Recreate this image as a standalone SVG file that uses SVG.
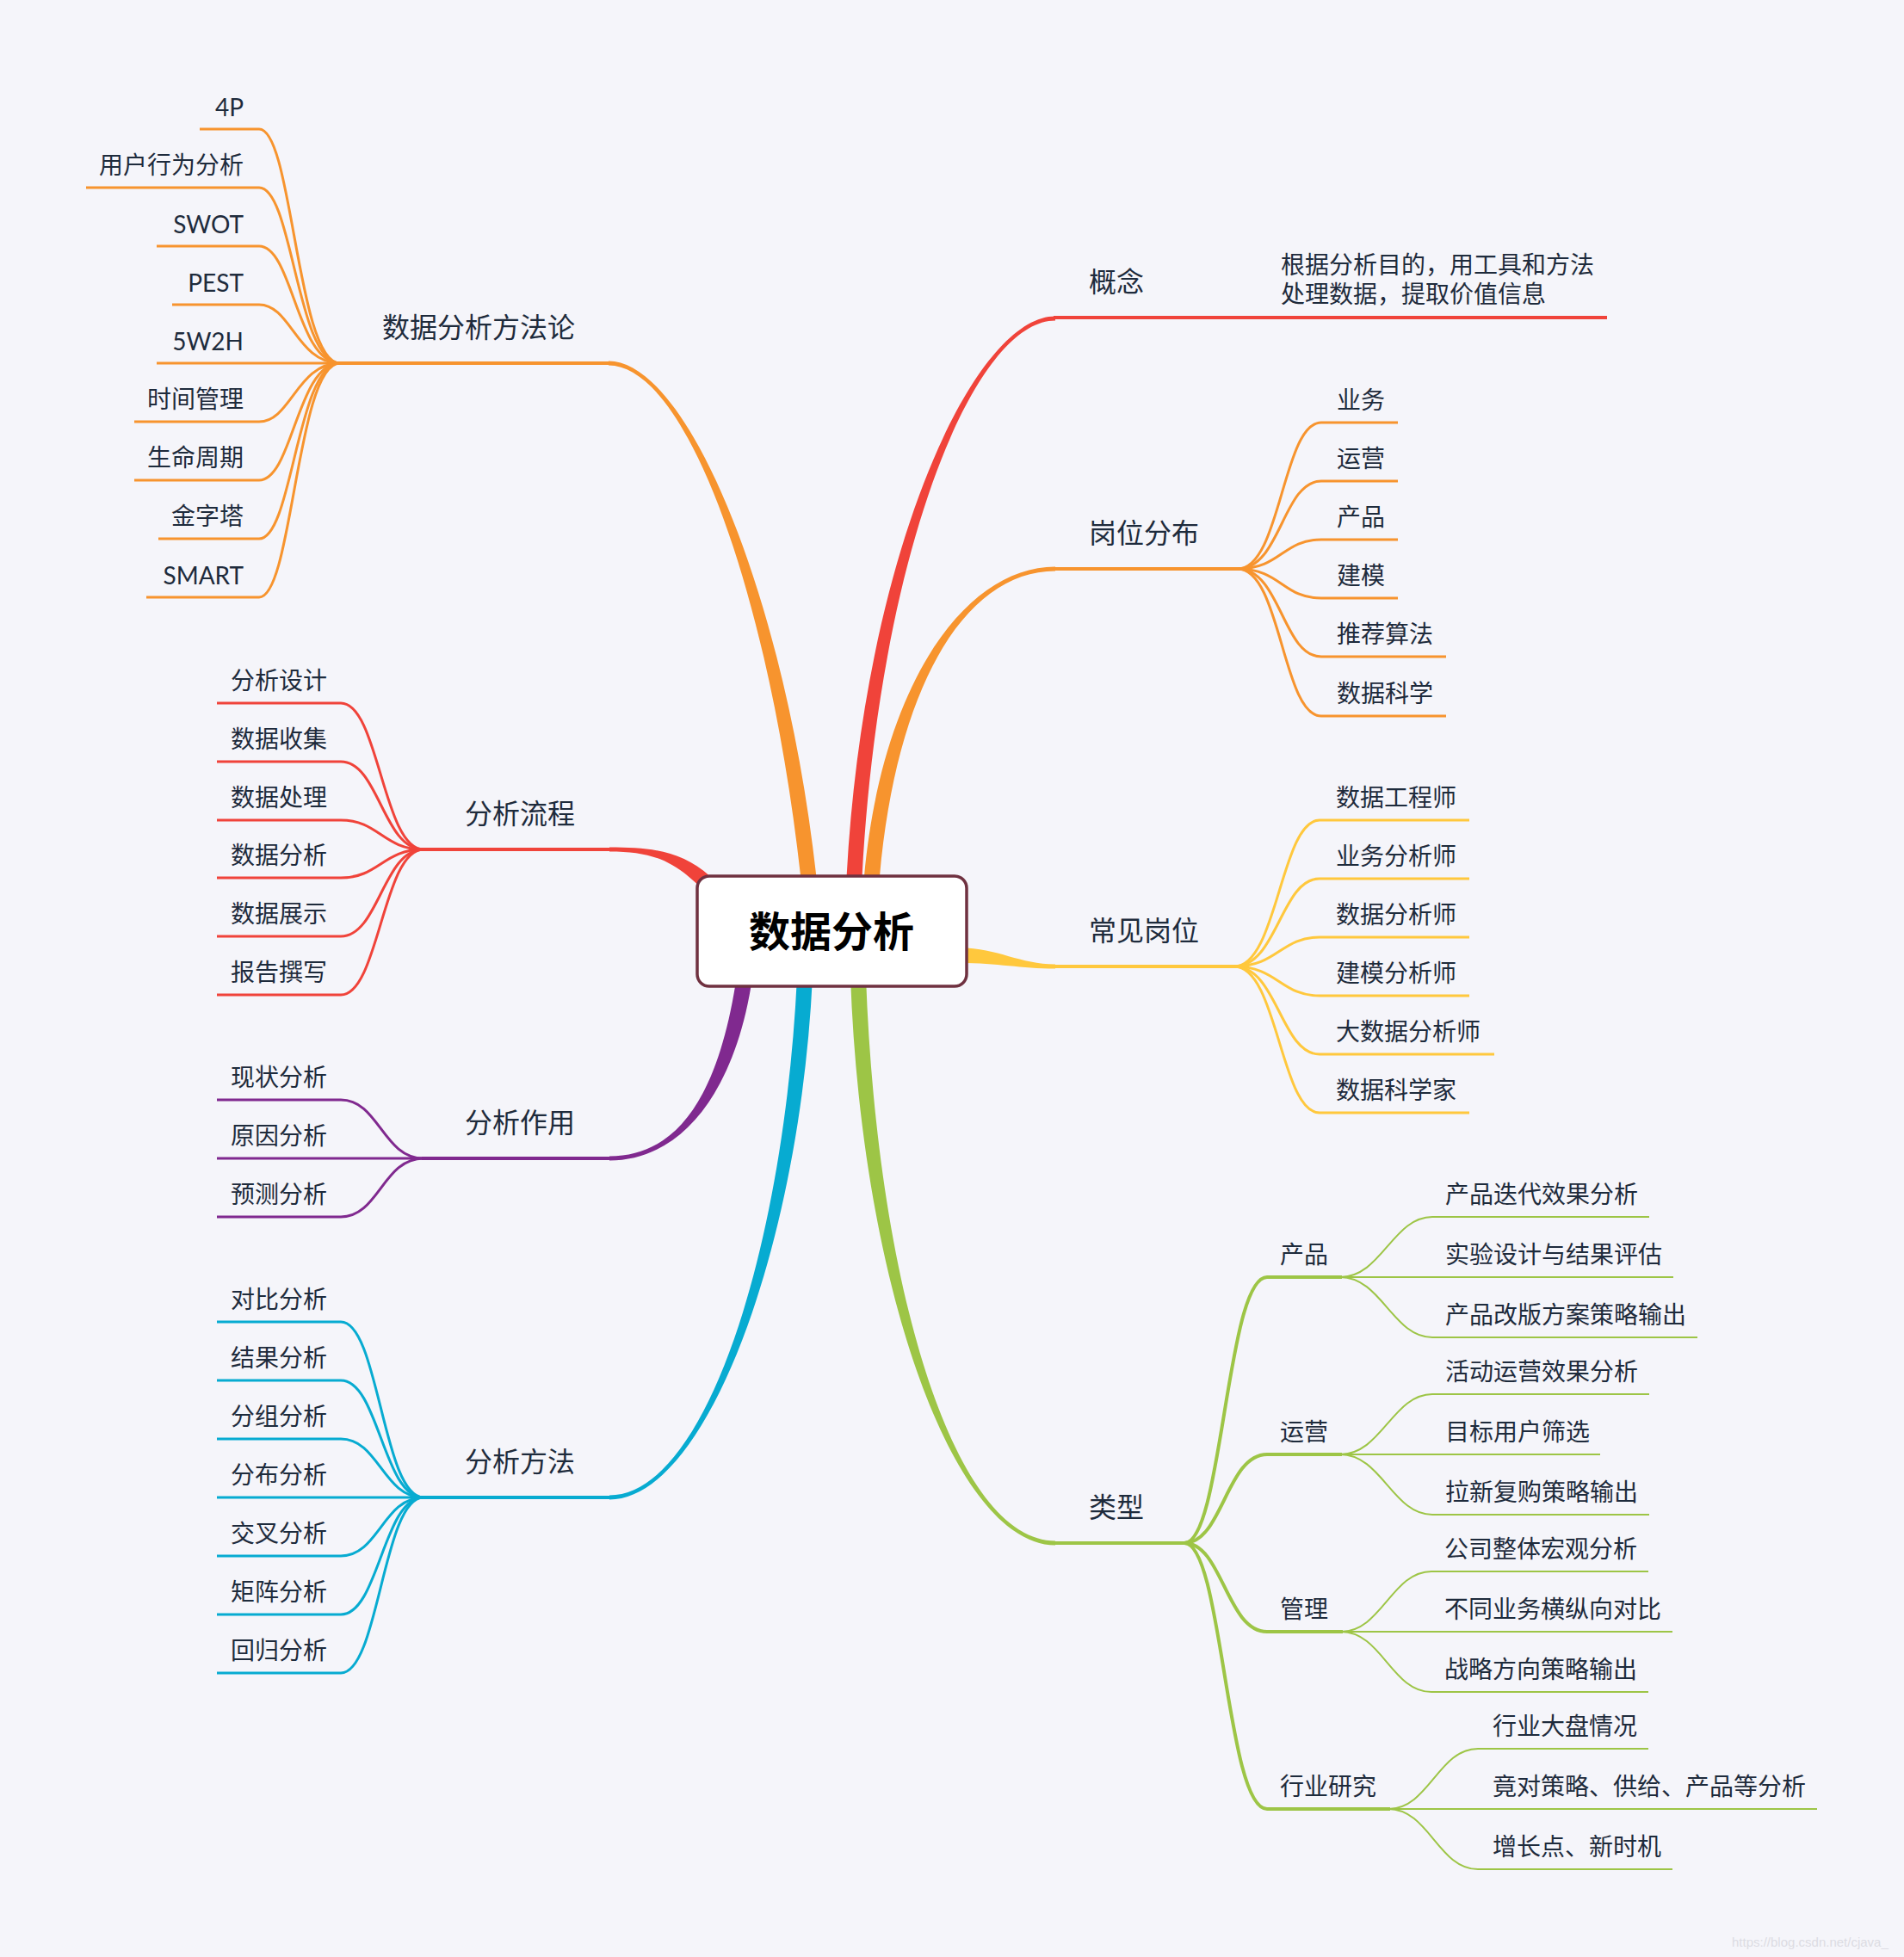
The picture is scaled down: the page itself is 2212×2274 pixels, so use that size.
<svg xmlns="http://www.w3.org/2000/svg" width="2212" height="2274" viewBox="0 0 2212 2274">
<style>
.t{font-family:Lato,"Noto Sans CJK SC",sans-serif;fill:#1E2B3C}
.l2{font-size:32px}
.l3{font-size:28px}
.e{text-anchor:end}
.c{fill:none;stroke-linecap:butt}
.w4{stroke-width:4}
.w3{stroke-width:3}
.w2{stroke-width:2}
.or{stroke:#F7942E}
.rd{stroke:#F0433A}
.ye{stroke:#FFC83D}
.gr{stroke:#9DC546}
.cy{stroke:#07ABD1}
.pu{stroke:#80298F}
</style>
<rect width="2212" height="2274" fill="#F5F5FA"/>
<g id="connectors">
  <path d="M707,419.5 C800,419.5 914,699 949,1024 L931,1026 C896,701 800,424.5 707,424.5 Z" fill="#F7942E"/>
  <path d="M1226,367.5 C1130,367.5 1001,650 983,1030 L1001,1030 C1019,650 1130,372.5 1226,372.5 Z" fill="#F0433A"/>
  <path d="M1226,658.5 C1120,658.5 1021,799 1003,1030 L1021,1030 C1039,801 1120,663.5 1226,663.5 Z" fill="#F7942E"/>
  <path d="M1226,1120.5 C1185,1120.5 1160,1102 1115,1101 L1115,1119 C1160,1119 1185,1125.5 1226,1125.5 Z" fill="#FFC83D"/>
  <path d="M1226,1795.5 C1110,1795.5 1001,1500 988,1135 L1006,1135 C1019,1500 1110,1790.5 1226,1790.5 Z" fill="#9DC546"/>
  <path d="M708,1742.5 C820,1742.5 929,1450 944,1135 L926,1135 C911,1450 820,1737.5 708,1737.5 Z" fill="#07ABD1"/>
  <path d="M708,1348.5 C790,1348.5 854,1271.6 874,1136.6 L856,1133.4 C836,1268.4 790,1343.5 708,1343.5 Z" fill="#80298F"/>
  <path d="M708,984.5 C760,984.5 796,989 831,1024 L819,1036 C784,1001 760,989.5 708,989.5 Z" fill="#F0433A"/>

  <path class="c or w4" d="M392,422 H708"/>
  <g class="c or w3">
    <path d="M232,150 H301 C340,150 345,422 395,422"/>
    <path d="M100,218 H301 C340,218 345,422 395,422"/>
    <path d="M182,286 H301 C340,286 345,422 395,422"/>
    <path d="M200,354 H301 C338,354 345,422 395,422"/>
    <path d="M182,422 H395"/>
    <path d="M156,490 H301 C338,490 345,422 395,422"/>
    <path d="M156,558 H301 C340,558 345,422 395,422"/>
    <path d="M184,626 H301 C340,626 345,422 395,422"/>
    <path d="M170,694 H301 C340,694 345,422 395,422"/>
  </g>

  <path class="c rd w4" d="M490,987 H708"/>
  <g class="c rd w3">
    <path d="M252,817 H396 C440,817 445,987 492,987"/>
    <path d="M252,885 H396 C440,885 445,987 492,987"/>
    <path d="M252,953 H396 C440,953 445,987 492,987"/>
    <path d="M252,1020 H396 C440,1020 445,987 492,987"/>
    <path d="M252,1088 H396 C440,1088 445,987 492,987"/>
    <path d="M252,1156 H396 C440,1156 445,987 492,987"/>
  </g>

  <path class="c pu w4" d="M490,1346 H708"/>
  <g class="c pu w3">
    <path d="M252,1278 H396 C440,1278 445,1346 492,1346"/>
    <path d="M252,1346 H492"/>
    <path d="M252,1414 H396 C440,1414 445,1346 492,1346"/>
  </g>

  <path class="c cy w4" d="M490,1740 H708"/>
  <g class="c cy w3">
    <path d="M252,1536 H396 C440,1536 445,1740 492,1740"/>
    <path d="M252,1604 H396 C440,1604 445,1740 492,1740"/>
    <path d="M252,1672 H396 C440,1672 445,1740 492,1740"/>
    <path d="M252,1740 H492"/>
    <path d="M252,1808 H396 C440,1808 445,1740 492,1740"/>
    <path d="M252,1876 H396 C440,1876 445,1740 492,1740"/>
    <path d="M252,1944 H396 C440,1944 445,1740 492,1740"/>
  </g>

  <path class="c rd w4" d="M1224,369 H1867"/>

  <path class="c or w4" d="M1224,661 H1441"/>
  <g class="c or w3">
    <path d="M1438,661 C1488,661 1490,491 1535,491 H1624"/>
    <path d="M1438,661 C1488,661 1490,559 1535,559 H1624"/>
    <path d="M1438,661 C1488,661 1490,627 1535,627 H1624"/>
    <path d="M1438,661 C1488,661 1490,695 1535,695 H1624"/>
    <path d="M1438,661 C1488,661 1490,763 1535,763 H1680"/>
    <path d="M1438,661 C1488,661 1490,832 1535,832 H1680"/>
  </g>

  <path class="c ye w4" d="M1224,1123 H1437"/>
  <g class="c ye w3">
    <path d="M1434,1123 C1484,1123 1488,953 1533,953 H1707"/>
    <path d="M1434,1123 C1484,1123 1488,1021 1533,1021 H1707"/>
    <path d="M1434,1123 C1484,1123 1488,1089 1533,1089 H1707"/>
    <path d="M1434,1123 C1484,1123 1488,1157 1533,1157 H1707"/>
    <path d="M1434,1123 C1484,1123 1488,1225 1533,1225 H1736"/>
    <path d="M1434,1123 C1484,1123 1488,1293 1533,1293 H1707"/>
  </g>

  <path class="c gr w4" d="M1224,1793 H1378"/>
  <g class="c gr w4">
    <path d="M1376,1793 C1420,1793 1425,1484 1472,1484 H1559"/>
    <path d="M1376,1793 C1420,1793 1425,1690 1472,1690 H1559"/>
    <path d="M1376,1793 C1420,1793 1425,1896 1472,1896 H1560"/>
    <path d="M1376,1793 C1420,1793 1425,2102 1472,2102 H1615"/>
  </g>
  <g class="c gr w2">
    <path d="M1557,1484 C1605,1484 1618,1414 1664,1414 H1916"/>
    <path d="M1557,1484 H1944"/>
    <path d="M1557,1484 C1605,1484 1618,1554 1664,1554 H1972"/>
    <path d="M1557,1690 C1605,1690 1618,1620 1664,1620 H1916"/>
    <path d="M1557,1690 H1859"/>
    <path d="M1557,1690 C1605,1690 1618,1760 1664,1760 H1916"/>
    <path d="M1558,1896 C1605,1896 1617,1826 1663,1826 H1915"/>
    <path d="M1558,1896 H1943"/>
    <path d="M1558,1896 C1605,1896 1617,1966 1663,1966 H1915"/>
    <path d="M1613,2102 C1660,2102 1671,2032 1717,2032 H1915"/>
    <path d="M1613,2102 H2111"/>
    <path d="M1613,2102 C1660,2102 1671,2172 1717,2172 H1943"/>
  </g>
</g>

<g id="root">
  <rect x="810" y="1018" width="313" height="128" rx="14" fill="#FFFFFF" stroke="#6F3140" stroke-width="3.5"/>
  <text x="966" y="1100" text-anchor="middle" font-family="Lato,'Noto Sans CJK SC',sans-serif" font-size="48" font-weight="bold" fill="#000">数据分析</text>
</g>

<g id="n-methodology"><text class="t l2" x="444" y="392">数据分析方法论</text></g>
<g id="n-4p"><text class="t l3 e" x="283" y="135">4P</text></g>
<g id="n-user"><text class="t l3 e" x="283" y="202">用户行为分析</text></g>
<g id="n-swot"><text class="t l3 e" x="283" y="271">SWOT</text></g>
<g id="n-pest"><text class="t l3 e" x="283" y="339">PEST</text></g>
<g id="n-5w2h"><text class="t l3 e" x="283" y="407">5W2H</text></g>
<g id="n-time"><text class="t l3 e" x="283" y="474">时间管理</text></g>
<g id="n-life"><text class="t l3 e" x="283" y="542">生命周期</text></g>
<g id="n-pyramid"><text class="t l3 e" x="283" y="610">金字塔</text></g>
<g id="n-smart"><text class="t l3 e" x="283" y="679">SMART</text></g>

<g id="n-process"><text class="t l2" x="540" y="957">分析流程</text></g>
<g id="n-p1"><text class="t l3" x="268" y="801">分析设计</text></g>
<g id="n-p2"><text class="t l3" x="268" y="869">数据收集</text></g>
<g id="n-p3"><text class="t l3" x="268" y="937">数据处理</text></g>
<g id="n-p4"><text class="t l3" x="268" y="1004">数据分析</text></g>
<g id="n-p5"><text class="t l3" x="268" y="1072">数据展示</text></g>
<g id="n-p6"><text class="t l3" x="268" y="1140">报告撰写</text></g>

<g id="n-role"><text class="t l2" x="540" y="1316">分析作用</text></g>
<g id="n-r1"><text class="t l3" x="268" y="1262">现状分析</text></g>
<g id="n-r2"><text class="t l3" x="268" y="1330">原因分析</text></g>
<g id="n-r3"><text class="t l3" x="268" y="1398">预测分析</text></g>

<g id="n-method"><text class="t l2" x="540" y="1710">分析方法</text></g>
<g id="n-m1"><text class="t l3" x="268" y="1520">对比分析</text></g>
<g id="n-m2"><text class="t l3" x="268" y="1588">结果分析</text></g>
<g id="n-m3"><text class="t l3" x="268" y="1656">分组分析</text></g>
<g id="n-m4"><text class="t l3" x="268" y="1724">分布分析</text></g>
<g id="n-m5"><text class="t l3" x="268" y="1792">交叉分析</text></g>
<g id="n-m6"><text class="t l3" x="268" y="1860">矩阵分析</text></g>
<g id="n-m7"><text class="t l3" x="268" y="1928">回归分析</text></g>

<g id="n-concept"><text class="t l2" x="1265" y="339">概念</text></g>
<g id="n-concept-def"><text class="t l3" x="1488" y="318">根据分析目的，用工具和方法</text><text class="t l3" x="1488" y="352">处理数据，提取价值信息</text></g>

<g id="n-posdist"><text class="t l2" x="1265" y="631">岗位分布</text></g>
<g id="n-d1"><text class="t l3" x="1553" y="475">业务</text></g>
<g id="n-d2"><text class="t l3" x="1553" y="543">运营</text></g>
<g id="n-d3"><text class="t l3" x="1553" y="611">产品</text></g>
<g id="n-d4"><text class="t l3" x="1553" y="679">建模</text></g>
<g id="n-d5"><text class="t l3" x="1553" y="747">推荐算法</text></g>
<g id="n-d6"><text class="t l3" x="1553" y="816">数据科学</text></g>

<g id="n-jobs"><text class="t l2" x="1265" y="1093">常见岗位</text></g>
<g id="n-j1"><text class="t l3" x="1552" y="937">数据工程师</text></g>
<g id="n-j2"><text class="t l3" x="1552" y="1005">业务分析师</text></g>
<g id="n-j3"><text class="t l3" x="1552" y="1073">数据分析师</text></g>
<g id="n-j4"><text class="t l3" x="1552" y="1141">建模分析师</text></g>
<g id="n-j5"><text class="t l3" x="1552" y="1209">大数据分析师</text></g>
<g id="n-j6"><text class="t l3" x="1552" y="1277">数据科学家</text></g>

<g id="n-type"><text class="t l2" x="1265" y="1763">类型</text></g>
<g id="n-t-product"><text class="t l3" x="1487" y="1468">产品</text></g>
<g id="n-t-ops"><text class="t l3" x="1487" y="1674">运营</text></g>
<g id="n-t-mgmt"><text class="t l3" x="1487" y="1880">管理</text></g>
<g id="n-t-industry"><text class="t l3" x="1487" y="2086">行业研究</text></g>
<g id="n-tp1"><text class="t l3" x="1679" y="1398">产品迭代效果分析</text></g>
<g id="n-tp2"><text class="t l3" x="1679" y="1468">实验设计与结果评估</text></g>
<g id="n-tp3"><text class="t l3" x="1679" y="1538">产品改版方案策略输出</text></g>
<g id="n-to1"><text class="t l3" x="1679" y="1604">活动运营效果分析</text></g>
<g id="n-to2"><text class="t l3" x="1679" y="1674">目标用户筛选</text></g>
<g id="n-to3"><text class="t l3" x="1679" y="1744">拉新复购策略输出</text></g>
<g id="n-tm1"><text class="t l3" x="1678" y="1810">公司整体宏观分析</text></g>
<g id="n-tm2"><text class="t l3" x="1678" y="1880">不同业务横纵向对比</text></g>
<g id="n-tm3"><text class="t l3" x="1678" y="1950">战略方向策略输出</text></g>
<g id="n-ti1"><text class="t l3" x="1734" y="2016">行业大盘情况</text></g>
<g id="n-ti2"><text class="t l3" x="1734" y="2086">竟对策略、供给、产品等分析</text></g>
<g id="n-ti3"><text class="t l3" x="1734" y="2156">增长点、新时机</text></g>

<text x="2012" y="2262" font-family="Liberation Sans,Arial,sans-serif" font-size="15" fill="#DCDCE3">https://blog.csdn.net/cjava_</text>
</svg>
